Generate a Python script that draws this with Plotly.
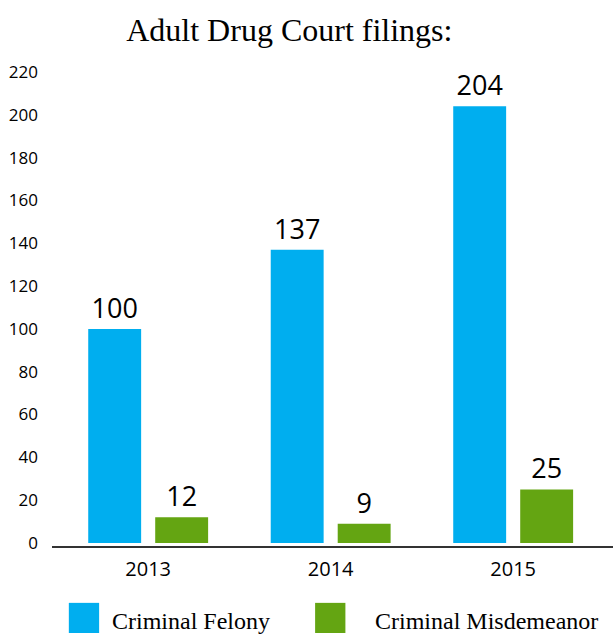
import plotly.graph_objects as go

years = ["2013", "2014", "2015"]
felony = [100, 137, 204]
misdemeanor = [12, 9, 25]
series_names = ["Criminal Felony", "Criminal Misdemeanor"]
colors = ["#00AEEF", "#64A512"]
y_ticks = [0, 20, 40, 60, 80, 100, 120, 140, 160, 180, 200, 220]

fig = go.Figure()
for name, vals, col in zip(series_names, [felony, misdemeanor], colors):
    fig.add_trace(go.Bar(
        x=years, y=vals, name=name, marker=dict(color=col, line=dict(width=0)),
        text=[str(v) for v in vals], textposition="outside",
        textfont=dict(family="Open Sans", size=27, color="#000000"),
        cliponaxis=False, showlegend=False,
    ))

# custom legend with large square swatches
legend_sq_x = [0.030, 0.469]
legend_txt_x = [0.1035, 0.572]
for i, (name, col) in enumerate(zip(series_names, colors)):
    fig.add_shape(type="rect", xref="paper", yref="paper",
                  x0=legend_sq_x[i], x1=legend_sq_x[i] + 0.054, y0=-0.179, y1=-0.117,
                  fillcolor=col, line=dict(width=0))
    fig.add_annotation(xref="paper", yref="paper", x=legend_txt_x[i], y=-0.154,
                       text=name, showarrow=False, xanchor="left", yanchor="middle",
                       font=dict(family="Liberation Serif", size=24, color="#000000"))

fig.update_layout(
    width=613, height=634,
    margin=dict(l=52, r=0, t=60, b=88),
    paper_bgcolor="white", plot_bgcolor="white",
    title=dict(text="Adult Drug Court filings:", x=0.472, xanchor="center",
               y=1 - 30 / 634, yref="container", yanchor="middle",
               font=dict(family="Liberation Serif", size=32, color="#000000")),
    barmode="group", bargap=0.266, bargroupgap=0.21,
    xaxis=dict(showline=True, linecolor="#333333", linewidth=1.5, showgrid=False,
               range=[-0.527, 2.547], ticks="", ticklabelstandoff=4,
               tickfont=dict(family="Open Sans", size=20, color="#000000")),
    yaxis=dict(range=[-1.4, 225.6], tickvals=y_ticks, showgrid=False, zeroline=False,
               showline=False, ticks="", ticklabelstandoff=13,
               tickfont=dict(family="Open Sans", size=17, color="#000000")),
    showlegend=False,
)

fig.write_html("out.html", config={"displayModeBar": False},
               post_script="document.body.style.margin='0px';document.body.style.overflow='hidden';")
